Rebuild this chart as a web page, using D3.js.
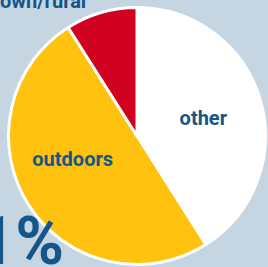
<!DOCTYPE html>
<html><head><meta charset="utf-8">
<script src="https://cdn.jsdelivr.net/npm/d3@7"></script>
<style>html,body{margin:0;padding:0;background:#c5d5e2;overflow:hidden}</style>
</head><body>
<svg id="c" width="268" height="267"></svg>
<script>
const categories = ["other", "outdoors", "town/rural"];
const values = [41, 50, 9];
const colors = ["#ffffff", "#ffc20f", "#d0021f"];
const labels = ["other", "outdoors", ""];
const titleText = "town/rural";
const bigText = "41%";

const W = 268, H = 267;
const cx = 137, cy = 136, R = 128.5;
const textColor = "#15568a";
const svg = d3.select("#c");
svg.append("rect").attr("width", W).attr("height", H).attr("fill", "#c5d5e2");

const pie = d3.pie().sort(null).value(d => d)(values);
const arc = d3.arc().innerRadius(0).outerRadius(R);
const g = svg.append("g").attr("transform", `translate(${cx},${cy})`);
g.selectAll("path").data(pie).join("path")
  .attr("d", arc)
  .attr("fill", (d, i) => colors[i])
  .attr("stroke", "#ffffff")
  .attr("stroke-width", 3)
  .attr("stroke-linejoin", "round");

// label placement: radius and angular nudge from slice middle
const labelR = 68.5;
const labelNudge = [0.028, 0.215, 0];
g.selectAll("text.lbl").data(pie).join("text")
  .attr("class", "lbl")
  .attr("x", (d, i) => labelR * Math.sin((d.startAngle + d.endAngle) / 2 + labelNudge[i]))
  .attr("y", (d, i) => -labelR * Math.cos((d.startAngle + d.endAngle) / 2 + labelNudge[i]))
  .attr("dy", "0.32em")
  .attr("text-anchor", "middle")
  .attr("font-family", "Roboto")
  .attr("font-weight", 700)
  .attr("font-size", 20)
  .attr("fill", textColor)
  .text((d, i) => labels[i]);

svg.append("text")
  .attr("x", -6.5).attr("y", 8)
  .attr("font-family", "Roboto").attr("font-weight", 700).attr("font-size", 20)
  .attr("fill", textColor)
  .text(titleText);

svg.append("text")
  .attr("x", 64).attr("y", 264)
  .attr("text-anchor", "end")
  .attr("font-family", "Roboto").attr("font-weight", 700).attr("font-size", 66)
  .attr("fill", textColor)
  .text(bigText);
</script>
</body></html>
